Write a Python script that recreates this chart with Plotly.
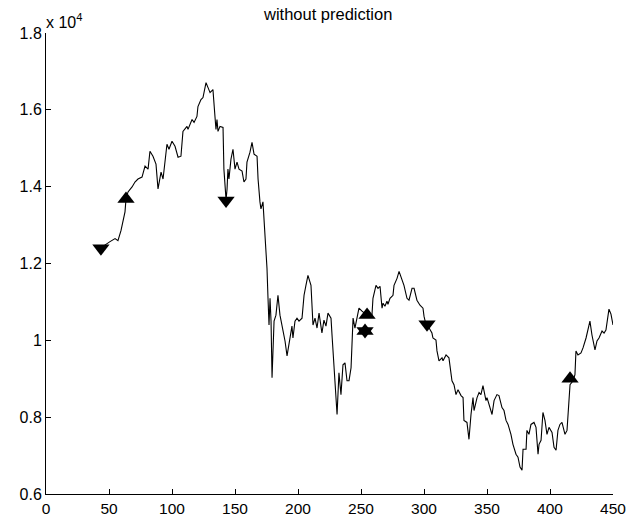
import plotly.graph_objects as go

# price series
t = [43.7, 46.8, 50.8, 54.8, 57.1, 59.5, 61.1, 62.7, 63.5, 65.1, 68.3, 70.6, 73.0, 76.2, 78.6,
     81.0, 82.5, 84.9, 87.3, 88.9, 91.3, 92.9, 96.0, 97.6, 100.0, 102.4, 104.8, 107.1, 108.7,
     111.9, 112.7, 115.9, 117.5, 119.8, 120.6, 123.0, 124.6, 127.0, 128.6, 130.2, 132.5, 133.0,
     134.1, 134.9, 135.7, 136.5, 138.1, 140.5, 141.2, 142.9, 143.7, 144.4, 145.2, 146.8, 148.4,
     150.0, 151.6, 153.2, 155.6, 157.1, 158.7, 159.5, 161.9, 163.5, 165.1, 167.5, 168.3, 169.8,
     170.6, 172.2, 173.8, 175.4, 176.2, 177.0, 177.8, 178.6, 179.4, 181.0, 182.5, 184.1, 185.7,
     188.1, 189.7, 191.3, 193.7, 195.2, 196.0, 197.6, 199.2, 200.8, 203.2, 204.8, 206.3, 207.9,
     210.3, 211.9, 213.5, 215.1, 216.7, 219.0, 220.6, 222.2, 223.8, 226.2, 227.0, 228.6, 230.2,
     231.0, 232.5, 234.1, 235.7, 237.3, 238.9, 240.5, 242.1, 243.7, 245.2, 246.8, 248.4, 250.8,
     253.2, 255.6, 258.7, 259.5, 261.9, 263.5, 265.1, 266.7, 267.5, 269.0, 270.6, 271.4, 273.0,
     275.4, 276.2, 278.6, 280.2, 282.5, 284.1, 286.5, 288.1, 290.5, 292.1, 294.4, 296.8, 299.2,
     300.0, 301.6, 303.2, 306.3, 307.1, 309.5, 310.3, 311.9, 314.3, 315.1, 317.5, 319.8, 322.2,
     323.8, 325.4, 327.0, 329.4, 331.0, 331.7, 334.1, 335.7, 337.3, 338.9, 339.7, 342.1, 343.7,
     345.2, 346.8, 349.2, 350.0, 352.4, 354.0, 355.6, 357.9, 359.5, 361.9, 363.5, 365.1, 366.7,
     369.0, 370.6, 373.0, 374.6, 376.2, 377.8, 378.6, 381.0, 381.7, 383.3, 384.9, 387.3, 388.9,
     390.5, 391.3, 392.9, 394.4, 396.0, 397.6, 399.2, 401.6, 403.2, 404.8, 406.3, 407.9, 409.5,
     411.9, 413.5, 414.3, 415.9, 418.3, 419.8, 420.6, 422.2, 424.6, 426.2, 428.6, 430.2, 431.7,
     433.3, 435.7, 437.3, 438.9, 441.3, 442.9, 444.4, 446.8, 448.4, 450.0]
price = [12414, 12492, 12569, 12647, 12595, 12854, 13087, 13345, 13681, 13862, 13992, 14121, 14199,
         14250, 14535, 14457, 14923, 14793, 14586, 13940, 14380, 14199, 15104, 14974, 15181, 15052,
         14767, 14793, 15440, 15569, 15492, 15750, 15673, 15828, 16086, 16267, 16319, 16707, 16578,
         16448, 16526, 16190, 15828, 15492, 15750, 15440, 15569, 15543, 14457, 13656, 13940, 14457,
         14199, 14716, 14974, 14457, 14638, 14457, 14405, 14121, 14199, 14638, 14897, 15155, 14845,
         14793, 14199, 13604, 13423, 13604, 12725, 11871, 11095, 10397, 11095, 10501, 9027, 10501,
         10656, 11173, 10656, 10242, 9983, 9595, 10061, 10371, 10061, 10501, 10578, 10501, 10578,
         11173, 11432, 11690, 11432, 10397, 10578, 10320, 10708, 10190, 10526, 10371, 10708, 10578,
         10139, 9285, 8587, 8070, 9156, 8587, 9363, 9414, 8949, 8949, 9285, 10578, 10320, 10630,
         10837, 10759, 10700, 10630, 10656, 11095, 11432, 11354, 11406, 10837, 10966, 10888, 11018,
         10940, 11095, 11173, 11432, 11613, 11794, 11561, 11432, 11095, 11044, 11354, 11354, 11044,
         10914, 10837, 10630, 10397, 10371, 10190, 10061, 10009, 9725, 9466, 9544, 9466, 9621, 9544,
         8949, 8846, 8587, 8716, 8561, 8509, 7915, 7863, 7423, 8070, 8509, 8173, 8509, 8639, 8587,
         8820, 8432, 8509, 8199, 8070, 8432, 8587, 8561, 8251, 8173, 7915, 7811, 7553, 7294, 7035,
         6958, 6699, 6622, 7165, 7165, 7656, 7553, 7811, 7863, 7734, 7035, 7294, 7398, 8122, 7915,
         7553, 7734, 7605, 7216, 7139, 7656, 7811, 7863, 7553, 7656, 7992, 8846, 8949, 9104, 9725,
         9621, 9673, 9802, 10061, 10268, 10501, 10139, 9751, 9983, 10061, 10242, 10190, 10268, 10811,
         10682, 10400]

# trade signals
buy_t = [63.5, 253.2, 254.8, 415.9]
buy_p = [13680, 10240, 10660, 9000]
sell_t = [43.6, 142.9, 253.2, 302.4]
sell_p = [12400, 13640, 10240, 10420]

xticks = [0, 50, 100, 150, 200, 250, 300, 350, 400, 450]
yticks = [6000, 8000, 10000, 12000, 14000, 16000, 18000]
ylabels = ["0.6", "0.8", "1", "1.2", "1.4", "1.6", "1.8"]

FONT = "Liberation Sans, Arial, sans-serif"

fig = go.Figure()
fig.add_trace(go.Scatter(x=t, y=price, mode="lines",
                         line=dict(color="black", width=1.1), showlegend=False))
fig.add_trace(go.Scatter(x=sell_t, y=sell_p, mode="markers",
                         marker=dict(symbol="triangle-down", size=15, color="black"),
                         showlegend=False))
fig.add_trace(go.Scatter(x=buy_t, y=buy_p, mode="markers",
                         marker=dict(symbol="triangle-up", size=15, color="black"),
                         showlegend=False))

fig.update_layout(
    width=641, height=529,
    margin=dict(l=46, r=28, t=33, b=32),
    paper_bgcolor="white", plot_bgcolor="white",
    font=dict(family=FONT, size=15, color="black"),
    title=dict(text="without prediction", x=0.512, xanchor="center", y=0.9735, yanchor="middle",
               font=dict(family=FONT, size=16.5, color="black")),
    annotations=[dict(text="x 10<sup>4</sup>", xref="paper", yref="paper", x=-0.003, y=1,
                      xanchor="left", yanchor="bottom", showarrow=False, yshift=0,
                      font=dict(family=FONT, size=16, color="black"))],
)
fig.update_xaxes(range=[0, 450], tickvals=xticks, ticks="inside", ticklen=5, tickcolor="black",
                 showline=True, linecolor="black", linewidth=1, showgrid=False, zeroline=False,
                 tickfont=dict(size=15.5))
fig.update_yaxes(range=[6000, 18000], tickvals=yticks, ticktext=ylabels, ticks="inside",
                 ticklen=5, tickcolor="black", showline=True, linecolor="black", linewidth=1,
                 showgrid=False, zeroline=False, tickfont=dict(size=16))

fig.write_html("out.html", config={"displayModeBar": False},
               post_script="document.body.style.margin='0';document.body.style.overflow='hidden';")
